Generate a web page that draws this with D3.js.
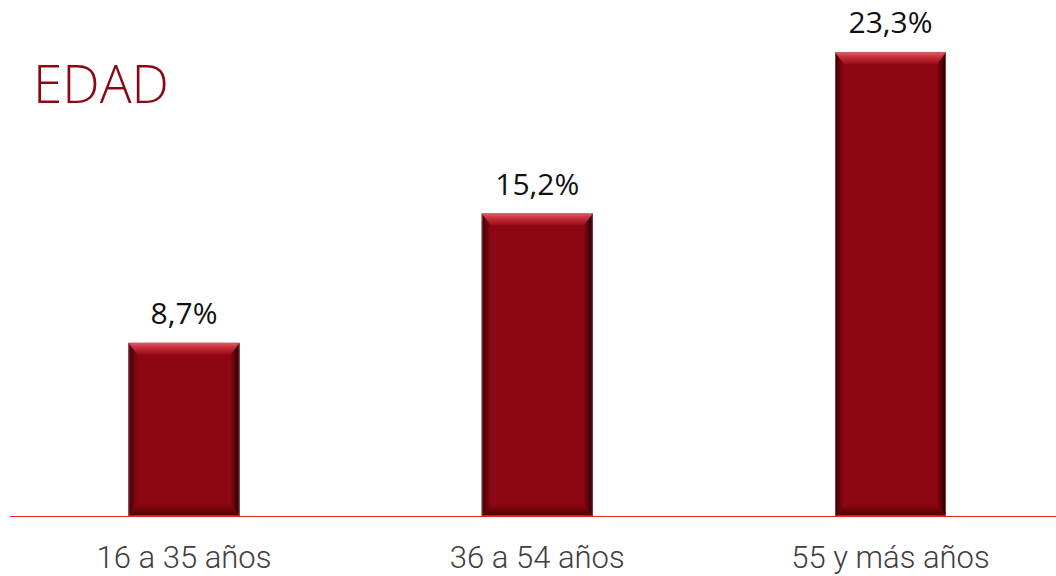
<!DOCTYPE html>
<meta charset="utf-8">
<style>
body { margin: 0; background: #fff; }
svg { display: block; }
</style>
<body>
<div id="chart"></div>
<script src="https://cdn.jsdelivr.net/npm/d3@7"></script>
<script>
var categories = ["16 a 35 años", "36 a 54 años", "55 y más años"];
var values = [8.7, 15.2, 23.3];
var valueLabels = ["8,7%", "15,2%", "23,3%"];
var title = "EDAD";

var width = 1056, height = 576;
var baseline = 516;
var barW = 111, bev = 9;

var svg = d3.select("#chart").append("svg")
    .attr("width", width)
    .attr("height", height);

var x = d3.scalePoint()
    .domain(categories)
    .range([184, 890.5]);

var y = d3.scaleLinear()
    .domain([0, 25])
    .range([baseline, baseline - 25 * 19.9]);

var defs = svg.append("defs");
function grad(id, x1, y1, x2, y2, stops) {
  var g = defs.append("linearGradient").attr("id", id)
      .attr("x1", x1).attr("y1", y1).attr("x2", x2).attr("y2", y2);
  stops.forEach(function(s) {
    g.append("stop").attr("offset", s[0]).attr("stop-color", s[1]);
  });
}
grad("gTop", 0, 0, 0, 1, [[0, "#e0606a"], [0.35, "#c8323e"], [1, "#960a16"]]);
grad("gLeft", 0, 0, 1, 0, [[0, "#3a0206"], [1, "#8c0712"]]);
grad("gRight", 1, 0, 0, 0, [[0, "#1e0103"], [1, "#8c0712"]]);
grad("gBottom", 0, 1, 0, 0, [[0, "#4a0308"], [1, "#8c0712"]]);

var bars = svg.selectAll(".bar")
    .data(values)
    .enter().append("g")
    .attr("class", "bar")
    .attr("transform", function(d, i) { return "translate(" + (x(categories[i]) - barW / 2) + ",0)"; });

bars.each(function(d) {
  var g = d3.select(this);
  var t = y(d), b = y(0), w = barW;
  g.append("rect").attr("x", 0).attr("y", t).attr("width", w).attr("height", b - t)
      .attr("fill", "#8c0712");
  g.append("polygon").attr("fill", "url(#gLeft)")
      .attr("points", [[0, t], [bev, t + bev + 3], [bev, b - bev - 2], [0, b]].join(" "));
  g.append("polygon").attr("fill", "url(#gRight)")
      .attr("points", [[w, t], [w - bev, t + bev + 3], [w - bev, b - bev - 2], [w, b]].join(" "));
  g.append("polygon").attr("fill", "url(#gBottom)")
      .attr("points", [[0, b], [bev, b - bev - 2], [w - bev, b - bev - 2], [w, b]].join(" "));
  g.append("polygon").attr("fill", "url(#gTop)")
      .attr("points", [[0, t], [w, t], [w - bev, t + bev + 3], [bev, t + bev + 3]].join(" "));
  g.append("rect").attr("x", 0.5).attr("y", t + 0.5).attr("width", w - 1).attr("height", b - t - 1)
      .attr("fill", "none").attr("stroke", "#b06068").attr("stroke-width", 1).attr("stroke-opacity", 0.6);
});

svg.append("line")
    .attr("x1", 10).attr("x2", width)
    .attr("y1", baseline + 0.5).attr("y2", baseline + 0.5)
    .attr("stroke", "#e8202a").attr("stroke-width", 1.2);

svg.selectAll(".val")
    .data(values)
    .enter().append("text")
    .attr("class", "val")
    .attr("x", function(d, i) { return x(categories[i]); })
    .attr("y", function(d) { return y(d) - 19; })
    .attr("text-anchor", "middle")
    .attr("font-family", "Open Sans, sans-serif")
    .attr("font-size", "30px")
    .attr("fill", "#111")
    .text(function(d, i) { return valueLabels[i]; });

svg.selectAll(".cat")
    .data(categories)
    .enter().append("text")
    .attr("class", "cat")
    .attr("x", function(d) { return x(d); })
    .attr("y", 568)
    .attr("text-anchor", "middle")
    .attr("font-family", "Roboto, sans-serif")
    .attr("font-weight", 300)
    .attr("font-size", "31px")
    .attr("fill", "#404040")
    .text(function(d) { return d; });

svg.append("text")
    .attr("x", 33)
    .attr("y", 103)
    .attr("font-family", "Open Sans, sans-serif")
    .attr("font-weight", 300)
    .attr("font-size", "53px")
    .attr("fill", "#8c0712")
    .text(title);
</script>
</body>
